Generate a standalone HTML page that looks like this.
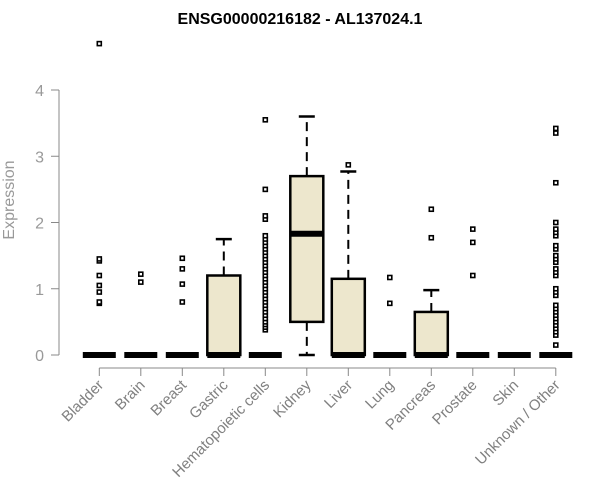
<!DOCTYPE html>
<html><head><meta charset="utf-8"><style>
body{margin:0;background:#fff}
svg{display:block;font-family:"Liberation Sans",Arial,sans-serif}
</style></head><body>
<svg id="chart" width="600" height="500">
<text x="300" y="24" text-anchor="middle" font-size="16" font-weight="bold">ENSG00000216182 - AL137024.1</text>
<text transform="translate(14,200) rotate(-90)" text-anchor="middle" font-size="16" fill="#999">Expression</text>
<g id="axes"></g><g id="boxes"></g>
</svg>
<script>
const categories=["Bladder","Brain","Breast","Gastric","Hematopoietic cells","Kidney","Liver","Lung","Pancreas","Prostate","Skin","Unknown / Other"];
const lowWhisker=[0,0,0,0,0,0,0,0,0,0,0,0];
const q1=[0,0,0,0,0,0.5,0,0,0,0,0,0];
const medians=[0,0,0,0,0,1.83,0,0,0,0,0,0];
const q3=[0,0,0,1.2,0,2.7,1.15,0,0.65,0,0,0];
const highWhisker=[0,0,0,1.75,0,3.6,2.77,0,0.98,0,0,0];
const outliers=[
[0.78,0.8,0.95,1.05,1.2,1.42,1.45,4.7],
[1.1,1.22],
[0.8,1.07,1.3,1.46],
[],
[0.38,0.42,0.46,0.5,0.55,0.6,0.65,0.7,0.75,0.8,0.85,0.9,0.95,1.0,1.05,1.1,1.15,1.2,1.25,1.3,1.35,1.4,1.45,1.5,1.55,1.6,1.65,1.7,1.75,1.8,2.05,2.1,2.5,3.55],
[],
[2.87],
[0.78,1.17],
[1.77,2.2],
[1.2,1.7,1.9],
[],
[0.15,0.3,0.35,0.4,0.45,0.5,0.55,0.6,0.65,0.7,0.75,0.9,0.95,1.0,1.2,1.25,1.3,1.4,1.45,1.5,1.6,1.65,1.8,1.85,1.9,2.0,2.6,3.35,3.42]
];
const yTicks=[0,1,2,3,4];
const NS="http://www.w3.org/2000/svg";
const y=v=>355-v*66.25;
const x=i=>99.3+i*41.5;
function mk(tag,attrs,parent){const e=document.createElementNS(NS,tag);for(const k in attrs)e.setAttribute(k,attrs[k]);parent.appendChild(e);return e;}
const axes=document.getElementById('axes'),boxes=document.getElementById('boxes');
const ya=mk('line',{x1:59,x2:59,y1:y(4),y2:y(0),stroke:'#888'},axes);


yTicks.forEach(t=>{
 const l=mk('line',{x1:51,x2:59,y1:y(t),y2:y(t),stroke:'#888'},axes);
 
 
 const tx=mk('text',{x:44,y:y(t)+6,'text-anchor':'end','font-size':16,fill:'#999'},axes);
 tx.textContent=t;
 
 
});
const xa=mk('line',{x1:x(0),x2:x(11),y1:368,y2:368,stroke:'#888'},axes);


categories.forEach((c,i)=>{
 const cx=x(i),hw=16.5;
 const tk=mk('line',{x1:cx,x2:cx,y1:368,y2:376,stroke:'#888'},axes);
 
 
 const lb=mk('text',{transform:`translate(${cx+5},${386}) rotate(-45)`,'text-anchor':'end','font-size':15,fill:'#808080'},axes);
 lb.textContent=c;
 
 
 const g=mk('g',{},boxes);
 
 
 if(highWhisker[i]>q3[i]){
  mk('line',{x1:cx,x2:cx,y1:y(q3[i]),y2:y(highWhisker[i]),stroke:'#000','stroke-width':2,'stroke-dasharray':'9,6'},g);
  mk('line',{x1:cx-8,x2:cx+8,y1:y(highWhisker[i]),y2:y(highWhisker[i]),stroke:'#000','stroke-width':2.5},g);
 }
 if(q1[i]>lowWhisker[i]){
  mk('line',{x1:cx,x2:cx,y1:y(q1[i]),y2:y(lowWhisker[i]),stroke:'#000','stroke-width':2,'stroke-dasharray':'9,6'},g);
  mk('line',{x1:cx-8,x2:cx+8,y1:y(lowWhisker[i]),y2:y(lowWhisker[i]),stroke:'#000','stroke-width':2.5},g);
 }
 if(q3[i]>q1[i]) mk('rect',{x:cx-hw,y:y(q3[i]),width:2*hw,height:y(q1[i])-y(q3[i]),fill:'#ede7cd',stroke:'#000','stroke-width':2.5},g);
 mk('line',{x1:cx-hw,x2:cx+hw,y1:y(medians[i]),y2:y(medians[i]),stroke:'#000','stroke-width':6},g);
 outliers[i].forEach(v=>{
  const p=mk('rect',{x:cx-2,y:y(v)-2,width:4,height:4,fill:'#fff',stroke:'#000','stroke-width':1.6},g);
  
  
 });
});
</script>
</body></html>
